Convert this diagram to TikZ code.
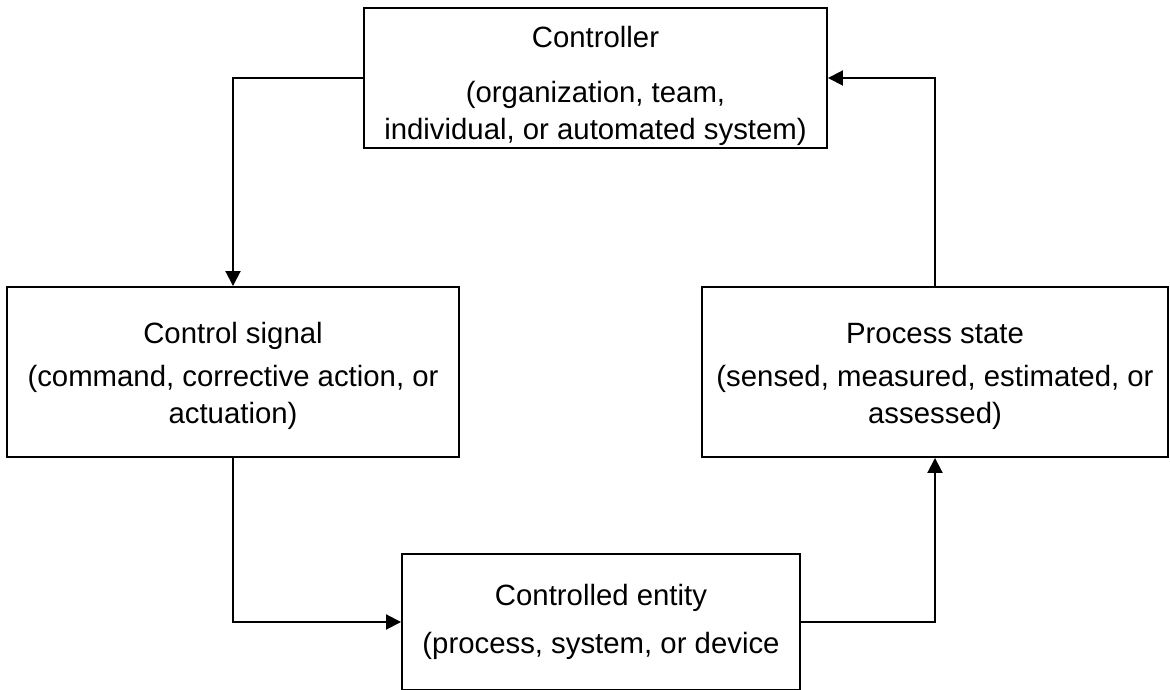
\documentclass[tikz,border=0pt]{standalone}
\usepackage{fontspec}
\setmainfont{Liberation Sans}
\usetikzlibrary{arrows.meta}

\tikzset{
  blockbox/.style={draw, line width=1.1pt, inner sep=0pt, align=center,
    font=\fontsize{16.7pt}{21pt}\selectfont},
  loopline/.style={line width=1.1pt, -{Triangle[length=0.3cm,width=0.3cm]}}
}

\begin{document}
\begin{tikzpicture}[scale=1]
    \useasboundingbox (0,0) rectangle (23.4,13.8);
    % the four blocks of the loop
    \node[blockbox, minimum width=9.26cm, minimum height=2.8cm] (ctrl) at (11.91,12.24)
        {\rule{0pt}{21pt}Controller\\[10pt](organization, team,\\individual, or automated system)};
    \node[blockbox, minimum width=9.04cm, minimum height=3.4cm] (signal) at (4.66,6.36)
        {\rule{0pt}{16.5pt}Control signal\\[4pt](command, corrective action, or\\actuation)};
    \node[blockbox, minimum width=9.32cm, minimum height=3.4cm] (state) at (18.70,6.36)
        {\rule{0pt}{16.5pt}Process state\\[4pt](sensed, measured, estimated, or\\assessed)};
    \node[blockbox, minimum width=7.96cm, minimum height=2.72cm] (entity) at (12.02,1.36)
        {Controlled entity\\[6pt](process, system, or device};
    % connectors
    \draw[loopline] (ctrl.west) -| (signal.north);
    \draw[loopline] (signal.south) |- (entity.west);
    \draw[loopline] (entity.east) -| (state.south);
    \draw[loopline] (state.north) |- (ctrl.east);
\end{tikzpicture}
\end{document}
